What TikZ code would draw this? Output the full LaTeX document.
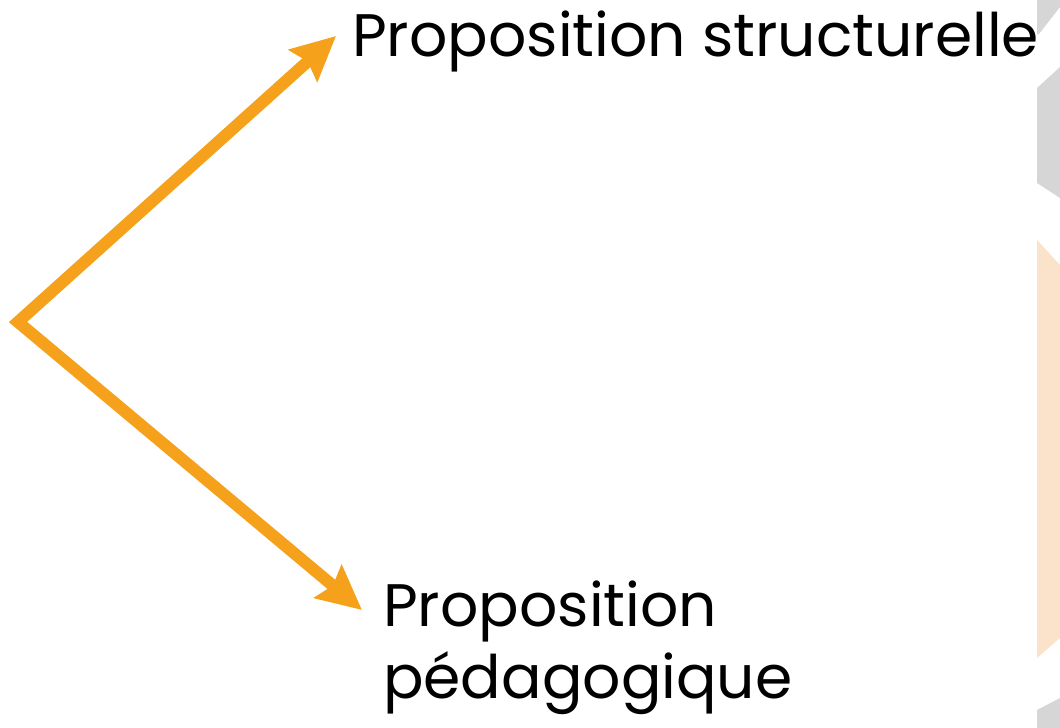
\documentclass[tikz,border=0pt]{standalone}
\usepackage{fontspec}
\setmainfont{Poppins}
\usetikzlibrary{arrows.meta}
\definecolor{flecheorange}{RGB}{245,161,27}
\definecolor{bordgris}{RGB}{214,214,214}
\definecolor{bordpeche}{RGB}{250,227,202}
\tikzset{
  fleche/.style={line width=12pt,draw=flecheorange,line join=miter},
  etiquette/.style={inner sep=0pt,font=\fontsize{60}{72}\selectfont,align=left}
}

\begin{document}
\begin{tikzpicture}[x=1pt,y=-1pt,>={Stealth[length=44pt,width=42pt,inset=6pt]}]
    \useasboundingbox (0,0) rectangle (1060,728);
    % bord droit
    \fill[bordgris] (1037,0) -- (1060,0) -- (1060,7) -- (1039,34) -- (1037,34) -- cycle;
    \fill[bordgris] (1037,88) -- (1060,67) -- (1060,198) -- (1037,183) -- cycle;
    \fill[bordpeche] (1037,240) -- (1060,265) -- (1060,638) -- (1037,658) -- cycle;
    \fill[bordgris] (1037,710) -- (1060,698) -- (1060,728) -- (1037,728) -- cycle;
    %
    \node[etiquette,anchor=base west] (structurelle) at (352,56) {Proposition structurelle};
    \node[etiquette,anchor=north west] (pedagogique) at (383,581) {Proposition\\pédagogique};
    %
    \coordinate (depart) at (18,322);
    \coordinate (pointehaut) at (336,36);
    \coordinate (pointebas) at (362,610);
    \draw[fleche,<->] (pointehaut) -- (depart) -- (pointebas);
\end{tikzpicture}
\end{document}
